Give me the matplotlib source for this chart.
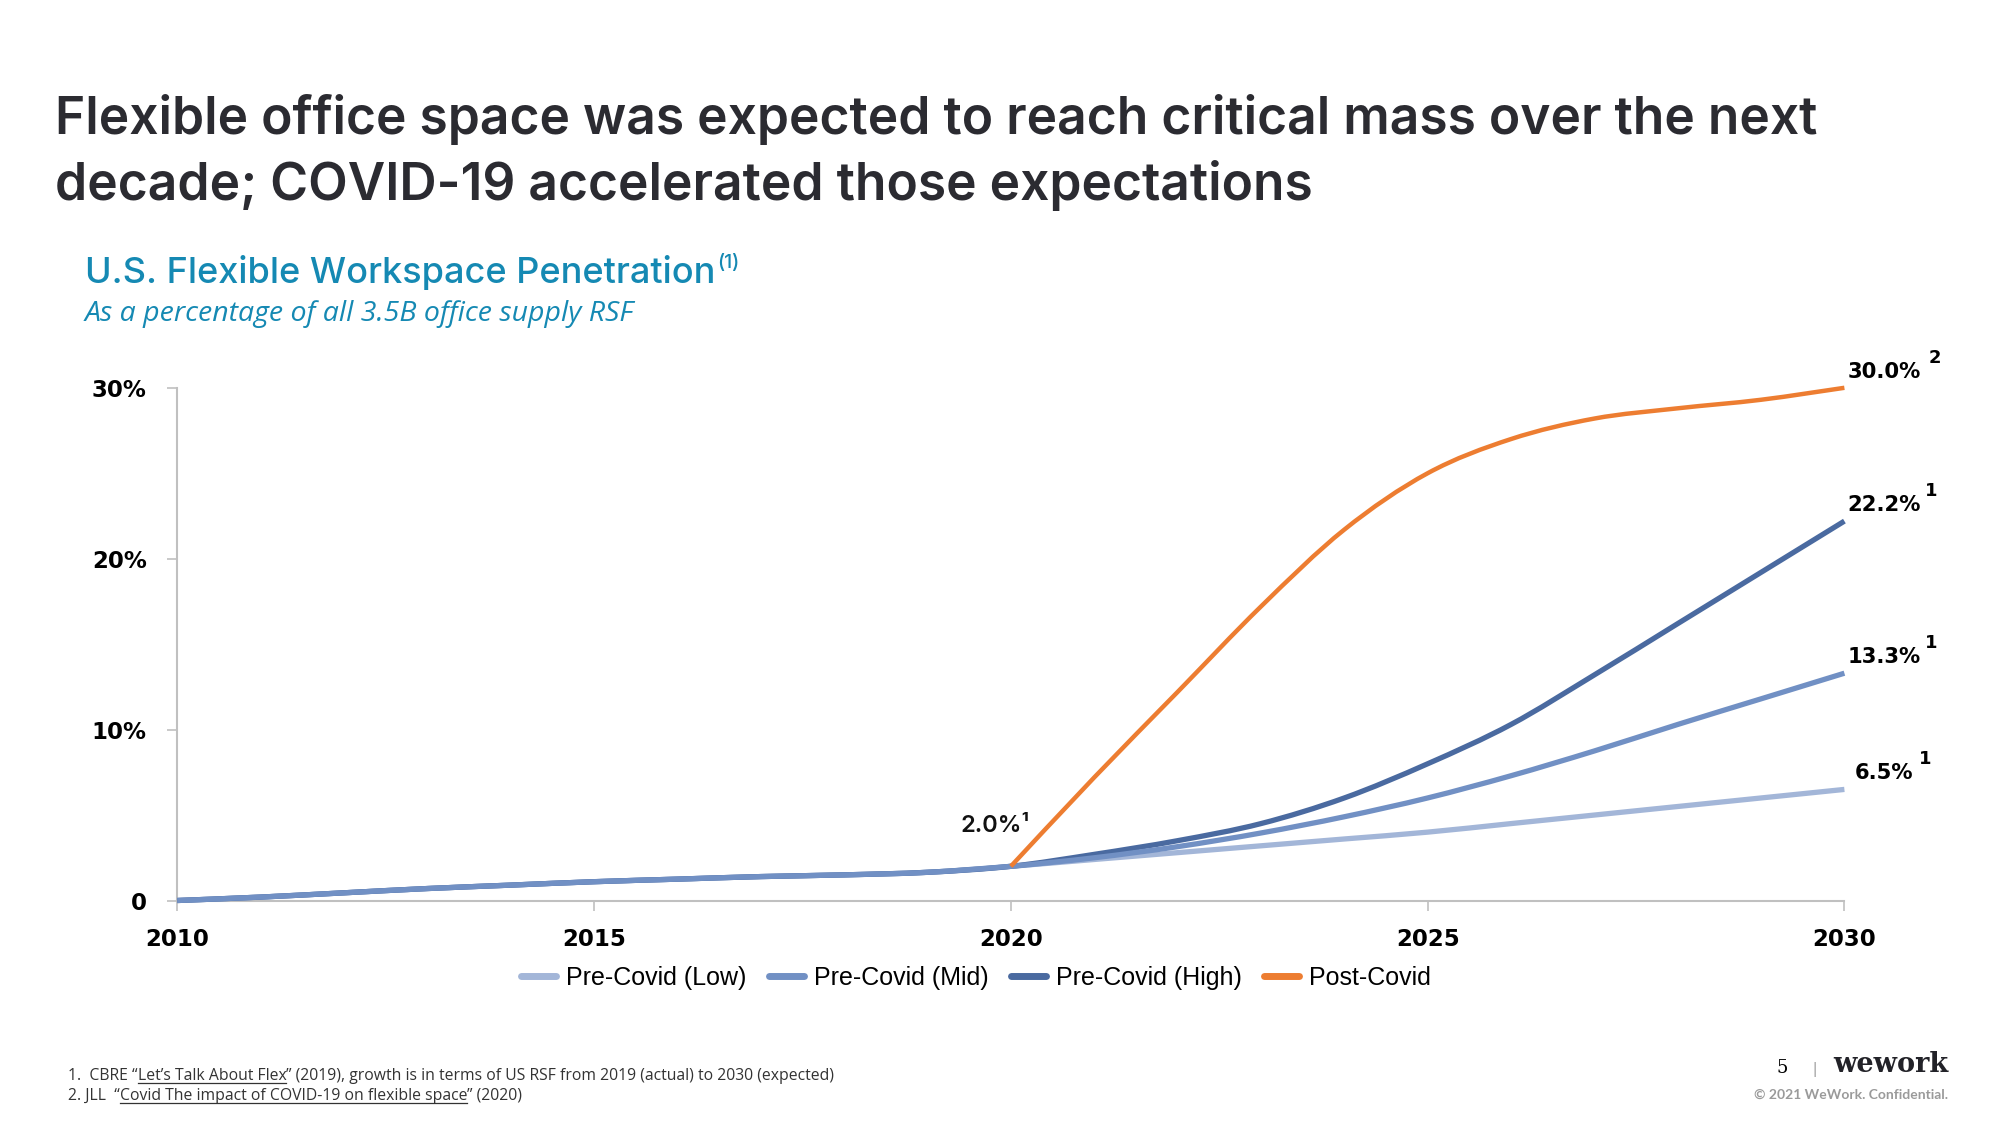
"""U.S. flexible workspace penetration chart (WeWork slide)."""

import matplotlib
matplotlib.use("Agg")
import matplotlib.pyplot as plt
import matplotlib.lines as mlines
from matplotlib.path import Path
from matplotlib.patches import PathPatch

W, H = 2000, 1125

# --- data -------------------------------------------------------------
years_hist = list(range(2010, 2021))
hist = [0.0, 0.2, 0.45, 0.7, 0.9, 1.1, 1.25, 1.4, 1.5, 1.65, 2.0]
years_fc = list(range(2020, 2031))
low = [2.0, 2.4, 2.8, 3.2, 3.6, 4.0, 4.5, 5.0, 5.5, 6.0, 6.5]
mid = [2.0, 2.5, 3.15, 3.95, 4.9, 6.0, 7.3, 8.75, 10.3, 11.8, 13.3]
high = [2.0, 2.7, 3.5, 4.5, 6.0, 8.0, 10.3, 13.2, 16.2, 19.2, 22.2]
post = [2.0, 7.2, 12.2, 17.2, 21.7, 25.0, 27.0, 28.2, 28.8, 29.3, 30.0]

series_names = ["Pre-Covid (Low)", "Pre-Covid (Mid)", "Pre-Covid (High)", "Post-Covid"]
colors = ["#a3b6d8", "#7190c4", "#4a6aa0", "#ed7d31"]
end_labels = ["6.5%", "13.3%", "22.2%", "30.0%"]
end_notes = ["1", "1", "1", "2"]
x_ticks = [2010, 2015, 2020, 2025, 2030]
y_ticks = [0, 10, 20, 30]
y_tick_labels = ["0", "10%", "20%", "30%"]

TITLE_FONT = ["Inter", "DejaVu Sans"]
BODY_FONT = ["Open Sans", "DejaVu Sans"]
LEGEND_FONT = ["Liberation Sans Narrow", "Liberation Sans", "DejaVu Sans"]


def fx(px):
    return px / W


def fy(py):
    return 1 - py / H


def smooth_line(ax, xs, ys, color, lw, z):
    """Excel-style smoothed line: cubic Bezier through every data point."""
    pts = list(zip(xs, ys))
    verts = [pts[0]]
    codes = [Path.MOVETO]
    for i in range(len(pts) - 1):
        p0 = pts[max(i - 1, 0)]
        p1 = pts[i]
        p2 = pts[i + 1]
        p3 = pts[min(i + 2, len(pts) - 1)]
        c1 = (p1[0] + (p2[0] - p0[0]) / 6, p1[1] + (p2[1] - p0[1]) / 6)
        c2 = (p2[0] - (p3[0] - p1[0]) / 6, p2[1] - (p3[1] - p1[1]) / 6)
        verts += [c1, c2, p2]
        codes += [Path.CURVE4] * 3
    patch = PathPatch(Path(verts, codes), fill=False, edgecolor=color, lw=lw,
                      capstyle="butt", joinstyle="round", zorder=z, clip_on=False)
    ax.add_patch(patch)


fig = plt.figure(figsize=(W / 100, H / 100), dpi=100)
fig.patch.set_facecolor("white")

# --- header -----------------------------------------------------------
fig.text(fx(55), fy(134), "Flexible office space was expected to reach critical mass over the next",
         fontsize=37.1, family=TITLE_FONT, weight="semibold", color="#2b2b31", va="baseline")
fig.text(fx(55), fy(200), "decade; COVID-19 accelerated those expectations",
         fontsize=37.1, family=TITLE_FONT, weight="semibold", color="#2b2b31", va="baseline")

sub = fig.text(fx(85), fy(283), "U.S. Flexible Workspace Penetration",
               fontsize=26, family=TITLE_FONT, weight="medium", color="#1589b3", va="baseline")
fig.text(fx(85), fy(321), "As a percentage of all 3.5B office supply RSF",
         fontsize=20.5, family=BODY_FONT, style="italic", color="#1589b3", va="baseline")

# --- chart ------------------------------------------------------------
ax = fig.add_axes([fx(177.3), fy(900.5), (1844.4 - 177.3) / W, (900.5 - 387.8) / H])

scenarios = [low, high, mid]
order = [0, 2, 1]
for vals, idx in zip(scenarios, order):
    smooth_line(ax, years_hist + years_fc[1:], hist + vals[1:], colors[idx], 3.8,
                3 + (idx == 1))
smooth_line(ax, years_fc, post, colors[3], 3.2, 6)

ax.set_xlim(2010, 2030)
ax.set_ylim(0, 30)
ax.set_xticks(x_ticks)
ax.set_xticklabels([str(y) for y in x_ticks])
ax.set_yticks(y_ticks)
ax.set_yticklabels(y_tick_labels)
for side in ["top", "right"]:
    ax.spines[side].set_visible(False)
for side in ["left", "bottom"]:
    ax.spines[side].set_color("#c0c0c0")
    ax.spines[side].set_linewidth(1.5)
ax.tick_params(axis="both", direction="out", length=7, width=1.2, color="#c0c0c0",
               labelsize=16.5, labelcolor="black")
ax.tick_params(axis="y", pad=15)
ax.tick_params(axis="x", pad=13)
for lab in ax.get_xticklabels() + ax.get_yticklabels():
    lab.set_fontweight("bold")
    lab.set_family("DejaVu Sans")

# end labels
end_vals = [low[-1], mid[-1], high[-1], post[-1]]
note_dx = [81, 87, 87, 90]
for val, lab, note, ndx in zip(end_vals, end_labels, end_notes, note_dx):
    ax.annotate(lab, (2030, val), xytext=(40, 16), textcoords="offset pixels",
                ha="center", va="center", fontsize=15.2, weight="bold",
                family="DejaVu Sans", color="black", annotation_clip=False)
    ax.annotate(note, (2030, val), xytext=(ndx, 30), textcoords="offset pixels",
                ha="center", va="center", fontsize=13, weight="bold",
                family="DejaVu Sans", color="black", annotation_clip=False)

ax.annotate("2.0%\u00b9", (2020, hist[-1]), xytext=(-16, 40), textcoords="offset pixels",
            ha="center", va="center", fontsize=17, family=TITLE_FONT, weight="semibold",
            color="#111111")

handles = [mlines.Line2D([], [], color=c, lw=5, solid_capstyle="round") for c in colors]
fig.legend(handles, series_names, loc="center", bbox_to_anchor=(fx(976), fy(978)), ncol=4,
           frameon=False, handlelength=1.4, handletextpad=0.4, columnspacing=0.9,
           prop={"family": LEGEND_FONT, "size": 18})

# --- superscript on sub-title ----------------------------------------
renderer = fig.canvas.get_renderer()
bb = sub.get_window_extent(renderer)
fig.text(bb.x1 / W + fx(2), fy(268), "(1)", fontsize=14, family=TITLE_FONT,
         weight="medium", color="#1589b3", va="baseline")


# --- footnotes --------------------------------------------------------
def note_line(x, y, parts):
    for txt, under in parts:
        t = fig.text(fx(x), fy(y), txt, fontsize=11.3, family=BODY_FONT,
                     color="#333333", va="baseline")
        box = t.get_window_extent(renderer)
        if under:
            fig.add_artist(mlines.Line2D([box.x0 / W, box.x1 / W], [fy(y + 2.5)] * 2,
                                         color="#333333", lw=0.9))
        x = box.x1


note_line(68, 1080, [("1.  CBRE \u201c", False), ("Let\u2019s Talk About Flex", True),
                     ("\u201d (2019), growth is in terms of US RSF from 2019 (actual) to 2030 (expected)", False)])
note_line(68, 1100, [("2. JLL  \u201c", False), ("Covid The impact of COVID-19 on flexible space", True),
                     ("\u201d (2020)", False)])

# --- footer -----------------------------------------------------------
fig.text(fx(1782), fy(1073), "5", fontsize=13, family="DejaVu Serif", color="black",
         ha="center", va="baseline")
fig.text(fx(1814), fy(1073), "|", fontsize=11, family=BODY_FONT, color="#888888",
         ha="center", va="baseline")
fig.text(fx(1948), fy(1072), "wework", fontsize=19.5, family="DejaVu Serif", weight="bold",
         color="#222228", ha="right", va="baseline")
fig.text(fx(1948), fy(1099), "\u00a9 2021 WeWork. Confidential.", fontsize=10,
         family=["Lato", "DejaVu Sans"], weight="bold", color="#9a9a9a", ha="right", va="baseline")

fig.savefig("out.png", dpi=100)
